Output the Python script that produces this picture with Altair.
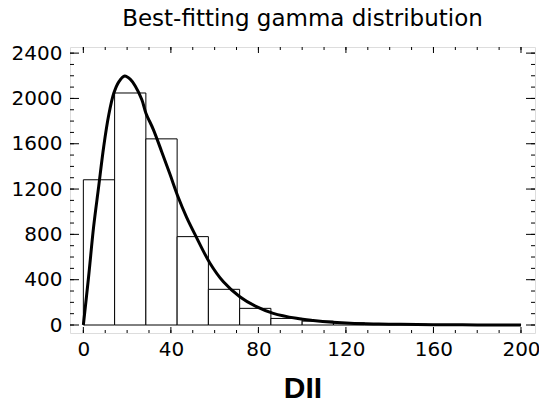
import altair as alt
import pandas as pd

# Histogram bins (DII) and counts
bin_start = [0, 14.29, 28.57, 42.86, 57.14, 71.43, 85.71, 100.0, 114.29, 128.57, 142.86, 157.14, 171.43, 185.71]
bin_end = [14.29, 28.57, 42.86, 57.14, 71.43, 85.71, 100.0, 114.29, 128.57, 142.86, 157.14, 171.43, 185.71, 200.0]
counts = [1282, 2048, 1643, 780, 315, 147, 58, 34, 18, 10, 6, 3, 2, 1]

# Best-fitting gamma curve
curve_x = [0, 2.4, 4.7, 7.0, 9.3, 11.6, 13.9, 16.2, 18.9, 21.5, 23.7, 26.7, 28.6, 32.0, 35.8, 39.6,
           43.4, 47.2, 51.0, 57.8, 64.0, 71.5, 79.1, 86.8, 97.4, 105, 114, 122, 135, 145, 160, 180, 200]
curve_y = [0, 426, 868, 1221, 1574, 1853, 2045, 2147, 2198, 2168, 2110, 1990, 1870, 1725, 1530, 1330,
           1125, 950, 800, 548, 382, 250, 162, 103, 59, 40, 24, 15, 9, 6, 3, 1, 0]

x_major = [0, 40, 80, 120, 160, 200]
x_minor = list(range(0, 201, 10))
y_major = [0, 400, 800, 1200, 1600, 2000, 2400]
y_minor = list(range(0, 2401, 100))

title_text = ["Best-fitting gamma distribution"]

W, H = 465, 286
FONT = "DejaVu Sans"

xs = alt.Scale(domain=[-6.1, 206.4], nice=False, zero=False)
ys = alt.Scale(domain=[-70.6, 2454], nice=False, zero=False)

bars_df = pd.DataFrame({"start": bin_start, "end": bin_end, "count": counts, "base": [0] * len(counts)})
curve_df = pd.DataFrame({"x": curve_x, "y": curve_y})

xaxis = alt.Axis(values=x_major, format="d", ticks=False, tickSize=0, domain=False, grid=False,
                 labelFontSize=20, labelFont=FONT, labelColor="black", labelPadding=6,
                 labelOverlap=False, labelFlush=False,
                 title="DII", titleFont="Liberation Sans", titleFontSize=30, titleFontWeight="bold",
                 titleColor="black", titleBaseline="alphabetic", titleY=64)
yaxis = alt.Axis(values=y_major, format="d", ticks=False, tickSize=0, domain=False, grid=False,
                 labelFontSize=20, labelFont=FONT, labelColor="black", labelPadding=8,
                 labelOverlap=False, labelFlush=False, title=None)

bars = alt.Chart(bars_df).mark_rect(fill="white", stroke="black", strokeWidth=1).encode(
    x=alt.X("start:Q", scale=xs, axis=xaxis),
    x2="end:Q",
    y=alt.Y("count:Q", scale=ys, axis=yaxis),
    y2="base:Q",
)

curve = alt.Chart(curve_df).mark_line(color="black", strokeWidth=3, interpolate="catmull-rom").encode(
    x=alt.X("x:Q", scale=xs),
    y=alt.Y("y:Q", scale=ys),
)

title = alt.Chart(pd.DataFrame({"t": title_text})).mark_text(
    font=FONT, fontSize=23, color="black", align="center", baseline="alphabetic"
).encode(text="t:N", x=alt.value(W / 2), y=alt.value(-21.5))


def xticks(vals, length):
    df = pd.DataFrame({"v": vals})
    bottom = alt.Chart(df).mark_rule(color="black", strokeWidth=1).encode(
        x=alt.X("v:Q", scale=xs), y=alt.value(H), y2=alt.value(H - length))
    top = alt.Chart(df).mark_rule(color="black", strokeWidth=1).encode(
        x=alt.X("v:Q", scale=xs), y=alt.value(0), y2=alt.value(length))
    return [bottom, top]


def yticks(vals, length):
    df = pd.DataFrame({"v": vals})
    left = alt.Chart(df).mark_rule(color="black", strokeWidth=1).encode(
        y=alt.Y("v:Q", scale=ys), x=alt.value(0), x2=alt.value(length))
    right = alt.Chart(df).mark_rule(color="black", strokeWidth=1).encode(
        y=alt.Y("v:Q", scale=ys), x=alt.value(W - length), x2=alt.value(W))
    return [left, right]


layers = [bars, curve, title] + xticks(x_major, 6) + xticks(x_minor, 3) + yticks(y_major, 9) + yticks(y_minor, 4)

chart = alt.layer(*layers).properties(
    width=W,
    height=H,
    autosize=alt.AutoSizeParams(type="none"),
    padding={"left": 62, "top": 39, "right": 4, "bottom": 65},
).configure_view(stroke="black", strokeWidth=2).configure(background="white")

chart.save("out.html", embed_options={"renderer": "svg", "actions": False})
